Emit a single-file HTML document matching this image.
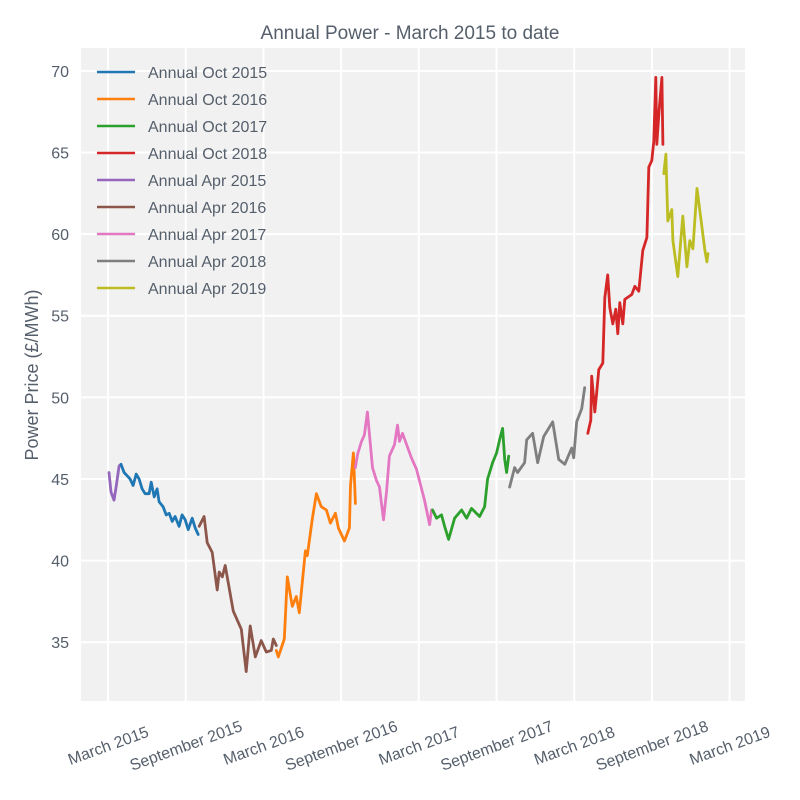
<!DOCTYPE html>
<html><head><meta charset="utf-8"><style>
body{margin:0;background:#fff;}
svg{display:block;font-family:"Liberation Sans",Arial,sans-serif;}
</style></head><body>
<svg id="chart" width="800" height="800" viewBox="0 0 800 800">
<rect x="0" y="0" width="800" height="800" fill="#fff"/>
<rect x="81" y="48" width="664" height="653" fill="#f1f1f1"/>
<g id="grid"></g><g id="series"></g><g id="axes"></g><g id="legend"></g>
<text x="410" y="39" text-anchor="middle" font-size="19" fill="#555f6b">Annual Power - March 2015 to date</text>
<text transform="translate(38,375) rotate(-90)" text-anchor="middle" font-size="18" fill="#555f6b">Power Price (£/MWh)</text>
</svg>
<script>
// months since 1 March 2015
const seriesNames=["Annual Oct 2015","Annual Oct 2016","Annual Oct 2017","Annual Oct 2018","Annual Apr 2015","Annual Apr 2016","Annual Apr 2017","Annual Apr 2018","Annual Apr 2019"];
const seriesColors=["#1f77b4","#ff7f0e","#2ca02c","#d62728","#9467bd","#8c564b","#e377c2","#7f7f7f","#bcbd22"];
const oct15X=[1.0,1.24,1.47,1.7,1.93,2.17,2.4,2.63,2.86,3.17,3.33,3.56,3.79,3.94,4.25,4.49,4.72,4.95,5.18,5.49,5.72,5.96,6.19,6.5,6.73,6.96];
const oct15Y=[45.9,45.4,45.2,45.0,44.6,45.3,45.0,44.4,44.1,44.1,44.8,43.9,44.4,43.6,43.3,42.8,42.9,42.4,42.7,42.1,42.8,42.5,41.9,42.6,42.0,41.6];
const oct16X=[12.99,13.15,13.61,13.84,14.23,14.54,14.77,15.24,15.39,15.78,16.09,16.47,16.86,17.17,17.56,17.79,18.25,18.64,18.72,18.95,19.1];
const oct16Y=[34.5,34.1,35.2,39.0,37.2,37.8,36.8,40.6,40.3,42.6,44.1,43.3,43.1,42.3,42.9,42.0,41.2,42.0,44.6,46.6,43.5];
const oct17X=[25.06,25.37,25.75,25.99,26.3,26.76,27.3,27.69,28.07,28.69,29.08,29.31,29.7,30.01,30.24,30.47,30.63,30.78,30.94];
const oct17Y=[43.1,42.6,42.8,42.1,41.3,42.6,43.1,42.6,43.2,42.7,43.3,45.0,46.0,46.6,47.4,48.1,46.2,45.4,46.4];
const oct18X=[37.05,37.28,37.35,37.59,37.74,37.9,38.21,38.36,38.59,38.75,38.98,39.21,39.37,39.52,39.75,39.91,40.45,40.68,40.99,41.3,41.61,41.76,41.99,42.15,42.3,42.38,42.54,42.77,42.85];
const oct18Y=[47.8,48.6,51.3,49.1,50.3,51.7,52.1,56.1,57.5,55.5,54.5,55.4,53.9,55.8,54.5,56.0,56.3,56.8,56.5,59.0,59.8,64.1,64.5,65.7,69.6,65.5,67.4,69.6,65.5];
const apr15X=[0.07,0.23,0.46,0.62,0.85,1.0];
const apr15Y=[45.4,44.2,43.7,44.5,45.8,45.9];
const apr16X=[7.04,7.42,7.66,8.04,8.43,8.58,8.82,9.05,9.67,10.29,10.67,10.98,11.37,11.83,12.22,12.61,12.76,12.99];
const apr16Y=[42.1,42.7,41.1,40.5,38.2,39.3,39.0,39.7,36.9,35.8,33.2,36.0,34.1,35.1,34.4,34.5,35.2,34.8];
const apr17X=[19.1,19.26,19.57,19.8,20.03,20.42,20.73,20.96,21.27,21.5,21.73,22.12,22.35,22.51,22.74,23.43,23.82,24.44,24.83,24.98];
const apr17Y=[45.7,46.5,47.3,47.7,49.1,45.7,44.9,44.5,42.5,44.2,46.4,47.1,48.3,47.3,47.8,46.3,45.6,43.7,42.2,43.1];
const apr18X=[31.01,31.4,31.63,32.17,32.33,32.79,33.18,33.64,34.34,34.8,35.27,35.81,35.96,36.19,36.58,36.81];
const apr18Y=[44.5,45.7,45.4,46.0,47.4,47.8,46.0,47.6,48.5,46.2,45.9,46.9,46.3,48.5,49.3,50.6];
const apr19X=[42.92,43.08,43.23,43.54,43.62,44.0,44.39,44.7,44.93,45.17,45.48,46.09,46.25,46.33];
const apr19Y=[63.7,64.9,60.8,61.5,59.6,57.4,61.1,58.0,59.6,59.1,62.8,59.0,58.3,58.8];
const yTicks=[35,40,45,50,55,60,65,70];
const xTickMonths=[0,6,12,18,24,30,36,42,48];
const xTickLabels=["March 2015","September 2015","March 2016","September 2016","March 2017","September 2017","March 2018","September 2018","March 2019"];

const NS="http://www.w3.org/2000/svg";
const X0=-2.09,X1=49.19,Y0=31.4,Y1=71.4,PL=81,PR=745,PT=48,PB=701;
function sx(m){return PL+(m-X0)/(X1-X0)*(PR-PL);}
function sy(v){return PB-(v-Y0)/(Y1-Y0)*(PB-PT);}
function mk(tag,attrs,parent){const e=document.createElementNS(NS,tag);for(const k in attrs)e.setAttribute(k,attrs[k]);parent.appendChild(e);return e;}
const grid=document.getElementById('grid'),axes=document.getElementById('axes'),ser=document.getElementById('series'),leg=document.getElementById('legend');
yTicks.forEach(v=>{
  const l=mk('line',{x1:PL,x2:PR,y1:sy(v),y2:sy(v),stroke:'#fff','stroke-width':2},grid);
  
  
  const t=mk('text',{x:PL-12,y:sy(v)+6,'text-anchor':'end','font-size':16,fill:'#555f6b'},axes);
  t.textContent=v;
  
  
});
xTickMonths.forEach((m,i)=>{
  const x=sx(m);
  const l=mk('line',{x1:x,x2:x,y1:PT,y2:PB,stroke:'#fff','stroke-width':2},grid);
  
  
  const t=mk('text',{x:x,y:751,'text-anchor':'middle','font-size':16,fill:'#555f6b',transform:'rotate(-20 '+x+' 745)'},axes);
  t.textContent=xTickLabels[i];
  
  
});
const allX=[oct15X,oct16X,oct17X,oct18X,apr15X,apr16X,apr17X,apr18X,apr19X];
const allY=[oct15Y,oct16Y,oct17Y,oct18Y,apr15Y,apr16Y,apr17Y,apr18Y,apr19Y];
const order=[4,0,5,1,6,2,7,3,8];
order.forEach(i=>{
  const d=allX[i].map((m,j)=>(j?'L':'M')+sx(m).toFixed(1)+' '+sy(allY[i][j]).toFixed(1)).join(' ');
  const p=mk('path',{d:d,fill:'none',stroke:seriesColors[i],'stroke-width':2.8,'stroke-linejoin':'round','stroke-linecap':'round'},ser);
  
  
});
seriesNames.forEach((n,i)=>{
  const y=72+i*27;
  const g=mk('g',{},leg);
  
  
  mk('line',{x1:97,x2:135,y1:y,y2:y,stroke:seriesColors[i],'stroke-width':2.6},g);
  const t=mk('text',{x:148,y:y+6,'font-size':16,fill:'#555f6b'},g);
  t.textContent=n;
});
</script>
</body></html>
